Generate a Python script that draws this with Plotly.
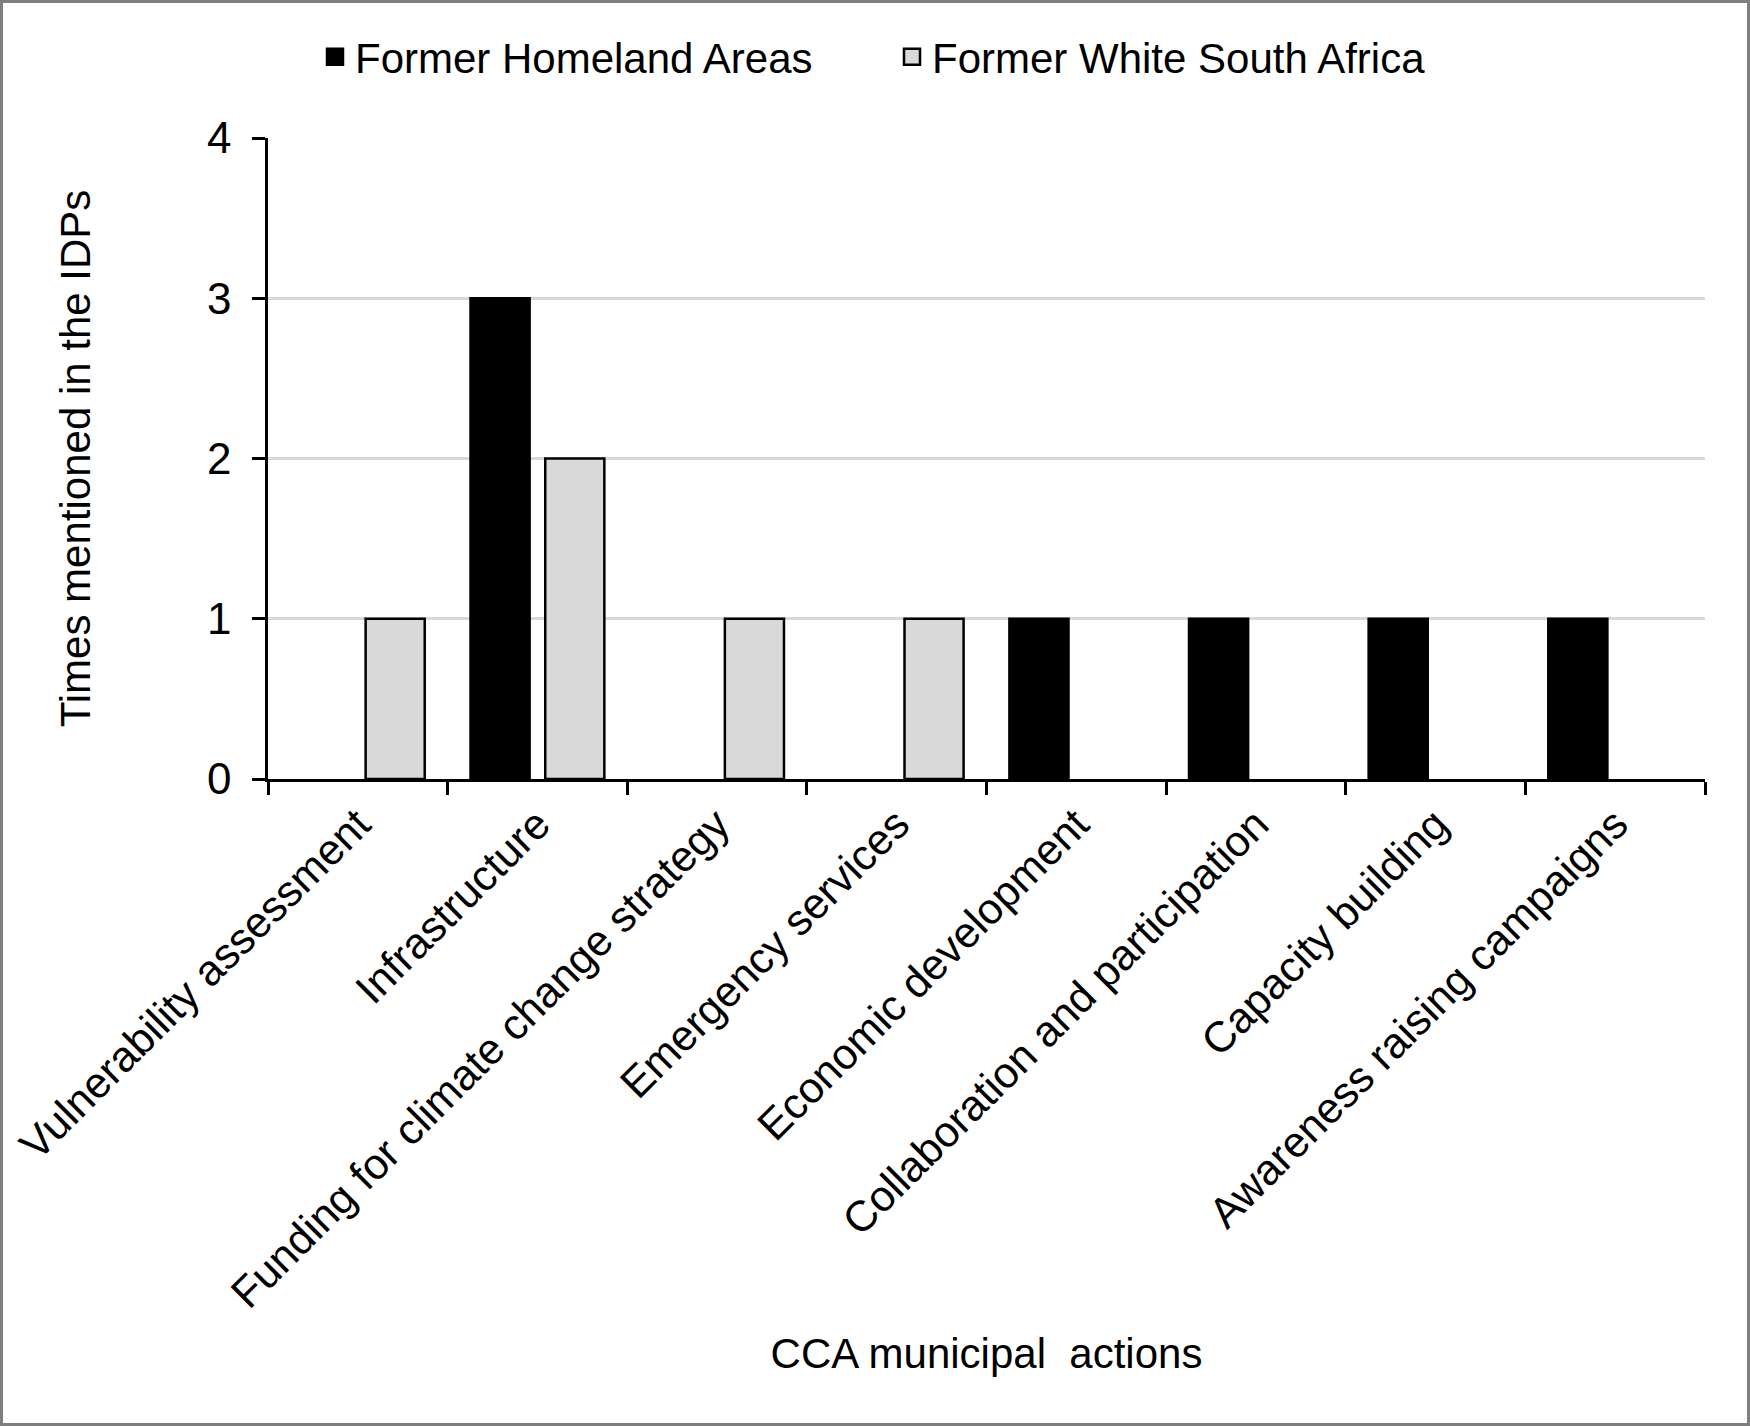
import plotly.graph_objects as go

categories = [
    "Vulnerability assessment",
    "Infrastructure",
    "Funding for climate change strategy",
    "Emergency services",
    "Economic development",
    "Collaboration and participation",
    "Capacity building",
    "Awareness raising campaigns",
]
homeland = [0, 3, 0, 0, 1, 1, 1, 1]
white_sa = [1, 2, 1, 1, 0, 0, 0, 0]
series_names = ["Former Homeland Areas", "Former White South Africa"]
series_colors = ["#000000", "#d9d9d9"]
y_ticks = [0, 1, 2, 3, 4]

FONT = "Liberation Sans, Arial, sans-serif"

W, H = 1750, 1426
L, R, T, B = 268, 45, 138, 647
PW, PH = W - L - R, H - T - B


def px2x(px):
    return (px - L) / PW


def py2y(py):
    return (H - B - py) / PH


fig = go.Figure()
for name, vals, col in zip(series_names, [homeland, white_sa], series_colors):
    fig.add_trace(go.Bar(
        x=categories, y=vals, name=name, legendgroup=name, showlegend=False,
        marker=dict(color=col, line=dict(color="#000000",
                                         width=[2.5 if v else 0 for v in vals])),
    ))
    # legend proxy (larger square symbol than the default bar swatch)
    fig.add_trace(go.Scatter(
        x=[None], y=[None], mode="markers", name=name, legendgroup=name,
        marker=dict(symbol="square", size=16, color=col,
                    line=dict(color="#000000", width=2.5)),
    ))

fig.update_layout(
    width=W, height=H,
    margin=dict(l=L, r=R, t=T, b=B, autoexpand=False),
    paper_bgcolor="white", plot_bgcolor="white",
    font=dict(family=FONT, size=42, color="#000000"),
    barmode="group", bargap=0.168, bargroupgap=0.209,
    legend=dict(orientation="h", x=px2x(315), xanchor="left", y=py2y(57), yanchor="middle",
                font=dict(size=42), bgcolor="rgba(0,0,0,0)", traceorder="normal",
                entrywidth=532, entrywidthmode="pixels", itemsizing="trace"),
    xaxis=dict(
        type="category", tickangle=-45, tickson="boundaries",
        ticks="outside", ticklen=13, tickwidth=2.5, tickcolor="#000000",
        showline=True, linecolor="#000000", linewidth=2.5, showgrid=False,
        tickfont=dict(size=43), automargin=False,
        title=dict(text="CCA municipal\u00a0 actions", font=dict(size=42), standoff=23),
    ),
    yaxis=dict(
        range=[0, 4], tickvals=y_ticks, ticks="outside", ticklen=13, tickwidth=2.5,
        tickcolor="#000000", showline=True, linecolor="#000000", linewidth=2.5,
        showgrid=True, gridcolor="#d9d9d9", gridwidth=2.5, zeroline=False,
        tickfont=dict(size=44), ticklabelstandoff=12, automargin=False,
        title=dict(text="Times mentioned in the IDPs", font=dict(size=42), standoff=104),
    ),
    shapes=[dict(type="rect", xref="paper", yref="paper",
                 x0=px2x(1.5), x1=px2x(W - 1.5), y0=py2y(H - 1.5), y1=py2y(1.5),
                 line=dict(color="#7f7f7f", width=3), fillcolor="rgba(0,0,0,0)", layer="above")],
)

fig.write_html("out.html", config={"displayModeBar": False},
               post_script="document.body.style.margin='0';document.body.style.padding='0';")
